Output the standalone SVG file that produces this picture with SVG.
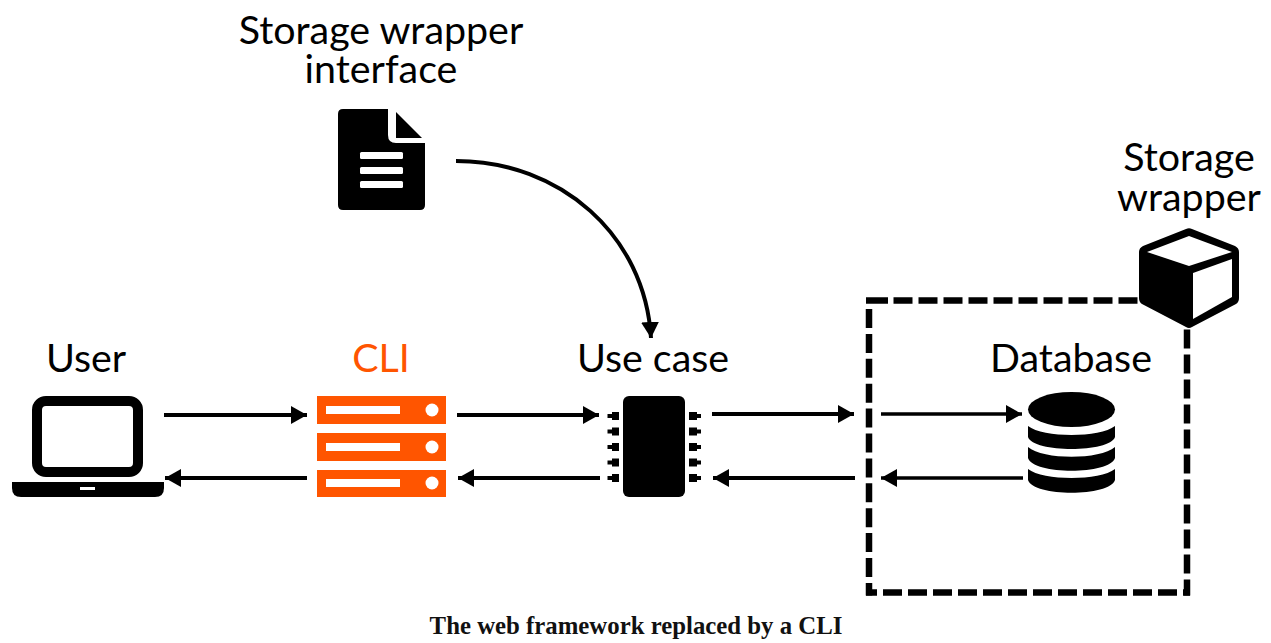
<svg xmlns="http://www.w3.org/2000/svg" width="1271" height="643" viewBox="0 0 1271 643">
<style>
.l{font-family:Lato,"Open Sans",sans-serif;font-size:39.400px;fill:#000;text-anchor:middle}
.c{fill:none;stroke:#000;stroke-width:4}
.t{stroke-width:3.500}
.o{fill:#ff5500}
.w{fill:#fff}
.d{fill:none;stroke:#000;stroke-width:6.500}
.e{stroke-dasharray:19 6}
</style>
<defs>
<marker id="a" markerUnits="userSpaceOnUse" markerWidth="17" markerHeight="20" refX="16" refY="10" orient="auto"><path d="M0 1L16 10L0 19Z"/></marker>
</defs>
<rect width="1271" height="643" fill="#fff"/>
<g id="connectors">
<path class="c" marker-end="url(#a)" d="M164 415H307"/>
<path class="c" marker-end="url(#a)" d="M307 478H165"/>
<path class="c" marker-end="url(#a)" d="M457 415H599"/>
<path class="c" marker-end="url(#a)" d="M600 478H458"/>
<path class="c" marker-end="url(#a)" d="M712 414H854"/>
<path class="c" marker-end="url(#a)" d="M855 478H713"/>
<path class="c t" marker-end="url(#a)" d="M881 414H1022"/>
<path class="c t" marker-end="url(#a)" d="M1023 478H881"/>
<path class="c" marker-end="url(#a)" d="M456 161C560 161 645 235 651 338"/>
</g>
<g id="storage-box">
<path class="d" d="M888 300.500H866"/>
<path class="d e" d="M893.500 300.500H1137.500"/>
<path class="d" style="stroke-dasharray:19 5.900" d="M869 309V595.500"/>
<path class="d" d="M866 592.500H877"/>
<path class="d e" d="M883 592.500H1190"/>
<path class="d e" d="M1187 329.500V595.500"/>
</g>
<g id="user">
<text class="l" x="86" y="372">User</text>
<rect x="37" y="401" width="101" height="71" rx="9" fill="none" stroke="#000" stroke-width="10"/>
<path d="M12 482H164V488Q164 497 155 497H21Q12 497 12 488Z"/>
<rect class="w" x="80" y="487" width="15" height="3"/>
</g>
<g id="cli">
<text class="l" x="381" y="372" style="fill:#ff5500">CLI</text>
<rect class="o" x="317" y="396" width="129" height="28"/>
<rect class="o" x="317" y="433" width="129" height="28"/>
<rect class="o" x="317" y="470" width="129" height="27"/>
<rect class="w" x="326" y="406" width="74" height="8"/>
<rect class="w" x="326" y="443" width="74" height="8"/>
<rect class="w" x="326" y="479" width="74" height="8"/>
<circle class="w" cx="432" cy="410" r="6.500"/>
<circle class="w" cx="432" cy="447" r="6.500"/>
<circle class="w" cx="432" cy="483" r="6.500"/>
</g>
<g id="use-case">
<text class="l" x="653" y="372">Use case</text>
<rect x="623" y="396" width="62" height="101" rx="6"/>
<path d="M619 412H612V414H607.500V418H612V420H619Z"/>
<path d="M619 412H612V414H607.500V418H612V420H619Z" transform="translate(0,15.500)"/>
<path d="M619 412H612V414H607.500V418H612V420H619Z" transform="translate(0,31)"/>
<path d="M619 412H612V414H607.500V418H612V420H619Z" transform="translate(0,46.500)"/>
<path d="M619 412H612V414H607.500V418H612V420H619Z" transform="translate(0,62)"/>
<path d="M689 412H697V414H701V418H697V420H689Z"/>
<path d="M689 412H697V414H701V418H697V420H689Z" transform="translate(0,15.500)"/>
<path d="M689 412H697V414H701V418H697V420H689Z" transform="translate(0,31)"/>
<path d="M689 412H697V414H701V418H697V420H689Z" transform="translate(0,46.500)"/>
<path d="M689 412H697V414H701V418H697V420H689Z" transform="translate(0,62)"/>
</g>
<g id="database">
<text class="l" x="1071" y="372">Database</text>
<ellipse cx="1071.500" cy="409.500" rx="43.500" ry="17.500"/>
<path d="M1028 426C1043 438 1100 438 1115 426V437C1110 453 1033 453 1028 437Z"/>
<path d="M1028 447C1043 460 1100 460 1115 447V458C1110 475 1033 475 1028 458Z"/>
<path d="M1028 469C1043 481 1100 481 1115 469V480C1110 497 1033 497 1028 480Z"/>
</g>
<g id="storage-wrapper">
<text class="l" x="1189" y="171">Storage</text>
<text class="l" x="1189" y="211">wrapper</text>
<path d="M1186 229Q1189 227.500 1192 229L1235 246Q1239 248 1239 252V298Q1239 302 1236 304L1192 327Q1189 329 1186 327L1142 304Q1139 302 1139 298V252Q1139 248 1143 246Z"/>
<path class="w" d="M1147 252L1189 236L1232 252L1189 266Z"/>
<path class="w" d="M1193 273L1232 259V297L1193 319Z"/>
</g>
<g id="interface">
<text class="l" x="381" y="44">Storage wrapper</text>
<text class="l" x="381" y="83">interface</text>
<path d="M343 109H388V135Q388 143 396 143H425V205Q425 210 420 210H343Q338 210 338 205V114Q338 109 343 109Z"/>
<path d="M396 112L422 138H396Z"/>
<rect class="w" x="360" y="152" width="43" height="7" rx="1.500"/>
<rect class="w" x="360" y="167" width="43" height="7" rx="1.500"/>
<rect class="w" x="360" y="181" width="43" height="7" rx="1.500"/>
</g>
<text x="636" y="634" text-anchor="middle" style="font-family:'Liberation Serif',serif;font-weight:700;font-size:24.800px;fill:#111">The web framework replaced by a CLI</text>
</svg>
